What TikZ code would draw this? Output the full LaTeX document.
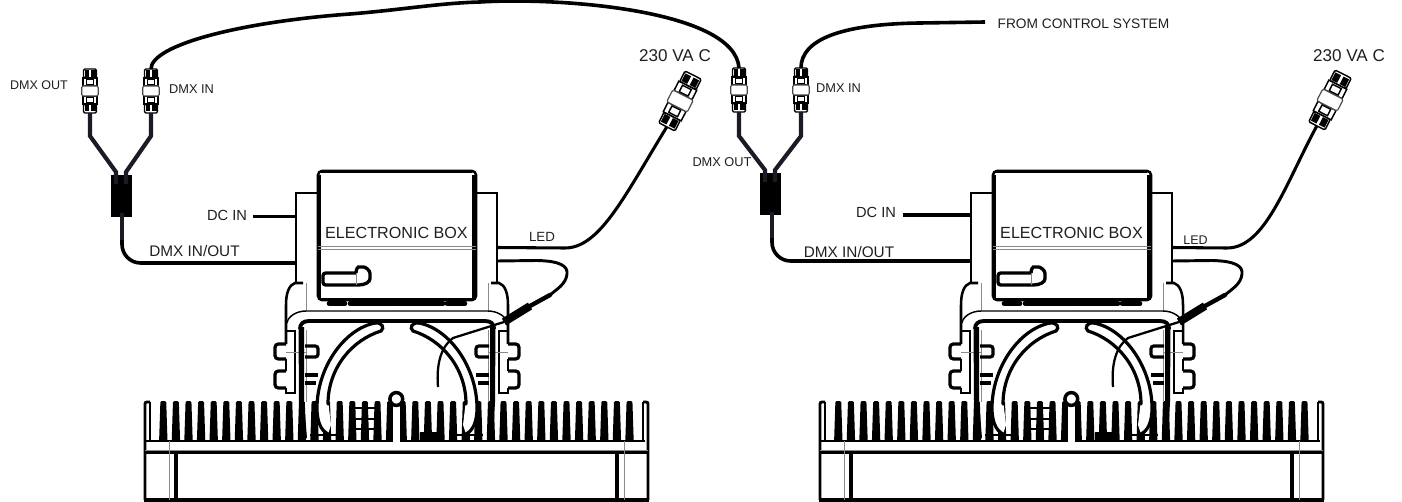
\documentclass[tikz,border=0pt]{standalone}
\usepackage{fontspec}
\setmainfont{Liberation Sans}
\definecolor{cabledark}{HTML}{1B1B26}
\definecolor{thin}{HTML}{8A8A8A}
\tikzset{
  x=0.75pt,y=-0.75pt,
  lbl/.style={inner sep=0pt,text=black!88},
  cable/.style={line width=2.7pt,draw=black},
  ycable/.style={line width=3.1pt,draw=cabledark,line join=miter},
  splitter/.style={fill=black,draw=none,minimum width=15.75pt,minimum height=31.5pt,inner sep=0pt},
  thick line/.style={line width=2.9pt,draw=black},
  med line/.style={line width=1.9pt,draw=black},
  fine line/.style={line width=1.1pt,draw=black},
  gray line/.style={line width=0.7pt,draw=thin},
  conn/.pic={
    \draw[fine line,fill=white,rounded corners=1pt] (-6.5,-22) rectangle (6.5,-13);
    \draw[fine line,fill=white,rounded corners=1pt] (-6.5,13) rectangle (6.5,22);
    \fill[black] (-5.5,-20.5) rectangle (-1,-14);
    \fill[black] (1,-20.5) rectangle (5.5,-14);
    \fill[black] (-5.5,14) rectangle (-1,20.5);
    \fill[black] (1,14) rectangle (5.5,20.5);
    \draw[fine line,fill=white] (-7.2,-13) rectangle (7.2,-5);
    \draw[fine line,fill=white] (-7.2,5) rectangle (7.2,13);
    \draw[fine line] (-3.5,-11.5) rectangle (3.5,-6);
    \draw[fine line] (-3.5,6) rectangle (3.5,11.5);
    \draw[line width=0.9pt,draw=black!70,fill=white,rounded corners=1pt] (-8.2,-5) rectangle (8.2,5);
    \coordinate (-top) at (0,-22);
    \coordinate (-bot) at (0,22);
  }
}
\newcommand{\halfbracket}{%
  \draw[gray line] (306,283) -- (306,311);
  \draw[med line] (303,283) -- (295,283) .. controls (289,285) and (286,293) .. (286,305) -- (286,344);
  \draw[med line] (286,359) -- (286,371);
  \draw[med line] (286,388) -- (286,393) -- (296,393);
  \draw[fine line] (295,330) -- (295,393);
  \draw[fine line] (287,323) .. controls (288,316) and (297,311) .. (306,311) -- (397,311);
  \draw[thick line] (300,329) .. controls (300,324) and (303,321) .. (309,321) -- (397,321);
  \draw[fine line] (287,331) -- (295,331);
  \draw[gray line] (306,330) -- (306,402);
  \draw[gray line] (286,352) -- (306,352);
  \fill[black] (298.5,327) -- (304,327) -- (304,402) -- (307,438) -- (301,438) -- (299,402) -- cycle;
  \draw[line width=2.4pt,rounded corners=2.5pt] (286,344) -- (275,344) -- (275,359) -- (286,359);
  \draw[line width=2.4pt,rounded corners=2.5pt] (286,371) -- (275,371) -- (275,388) -- (286,388);
  \draw[line width=2.4pt,rounded corners=2pt] (305,346) -- (318,346) -- (318,357) -- (305,357);
  \draw[line width=2.4pt] (305,375) -- (318,375);
  \draw[line width=2.4pt] (305,383) -- (316,383);
  \fill[white] (317,400) .. controls (317,420) and (320,430) .. (328,434) -- (331,425) -- (328,400) -- cycle;
  \draw[line width=2.4pt,line cap=round] (375,323) .. controls (344,329) and (317,368) .. (317,408) .. controls (317,420) and (320,430) .. (328,434);
  \draw[line width=2.4pt,line cap=round] (375,323) .. controls (382,322) and (385,328) .. (381,331) .. controls (352,340) and (328,368) .. (328,404);
}
\newcommand{\lampunit}{%
  \foreach \k in {0,...,37}{
    \pgfmathsetmacro{\cx}{163.3+12.6*\k}
    \fill[black,rounded corners=1pt] (\cx-2.9,401) -- (\cx+2.9,401) -- (\cx+4.2,441) -- (\cx-4.2,441) -- cycle;
  }
  \draw[line width=1.8pt] (145.5,441) -- (645,441);
  \draw[line width=0.8pt,white,dash pattern=on 1.5pt off 7.95pt] (150,442.5) -- (642,442.5);
  \draw[line width=2.2pt,rounded corners=1.5pt] (145,500) -- (145,402) -- (150,402);
  \draw[line width=1.2pt] (150,402) -- (150,440);
  \draw[line width=2.2pt,rounded corners=1.5pt] (648,500) -- (648,402) -- (643,402);
  \draw[line width=1.2pt] (643,402) -- (643,440);
  \draw[thick line] (145,452.5) -- (648,452.5);
  \draw[gray line] (145,450) -- (648,450);
  \draw[line width=2.4pt] (144,500) -- (649,500);
  \draw[gray line] (169,441) -- (169,500);
  \draw[gray line] (624,441) -- (624,500);
  \draw[thick line] (176,452) -- (176,500);
  \draw[thick line] (617,452) -- (617,500);
  \draw[line width=2pt] (352,408) -- (378,408);
  \draw[line width=2pt] (352,419) -- (378,419);
  \draw[line width=2pt] (352,429) -- (378,429);
  \draw[line width=2pt] (310,435) -- (343,435);
  \draw[line width=2pt] (457,435) -- (483,435);
  \fill[black] (420,432) rectangle (438,441);
  \fill[white] (393.1,405) rectangle (399.7,442);
  \draw[line width=2.6pt,fill=white] (396.3,399) circle (6.4);
  \halfbracket
  \begin{scope}[shift={(794,0)},xscale=-1]
    \halfbracket
  \end{scope}
  \draw[fine line] (317,193) -- (296,193) -- (296,283);
  \draw[fine line] (476,193) -- (497,193) -- (497,283);
  \draw[med line,fill=white,rounded corners=3pt] (318,300) -- (318,171) -- (476,171) -- (476,300) -- cycle;
  \draw[med line] (319.5,175) -- (319.5,298);
  \draw[thick line] (474,175) -- (474,298);
  \draw[thick line] (320,171.5) -- (472,171.5);
  \draw[thick line] (320,299.5) -- (474,299.5);
  \draw[gray line] (318,246.8) -- (476,246.8);
  \draw[gray line] (318,249.8) -- (476,249.8);
  \foreach \a/\b in {329/345,350/443,447/465}{
    \draw[line width=3.4pt,line cap=round] (\a,303.5) -- (\b,303.5);
  }
  \draw[line width=2.5pt,rounded corners=2pt,fill=white] (356,273) -- (323,273) -- (323,285) -- (356,285) .. controls (365,285) and (370,282) .. (370,276) .. controls (370,270) and (365,267) .. (361,267) .. controls (358,267) and (356,269) .. (356,273);
  \draw[gray line] (356,273) -- (356,285);
  \coordinate (ledplate) at (497,247.5);
  \coordinate (tailstart) at (497,261);
  \coordinate (plugA) at (550,295);
  \coordinate (plugB) at (530,306);
  \coordinate (plugC) at (504,322);
  \coordinate (loose1) at (438,387);
  \draw[line width=2.2pt] (tailstart) -- (537,260.5) .. controls (560,261) and (568,266) .. (567,274) .. controls (566,284) and (557,289) .. (plugA);
  \draw[line width=3.3pt,line cap=round] (plugA) -- (plugB);
  \draw[line width=6pt] (plugB) -- (plugC);
  \draw[line width=1.7pt] (plugC) -- (453,338) .. controls (442,346) and (436,362) .. (loose1);
  \draw[thin,line width=0.6pt] (527,303.5) -- (531,309.5);
}
\begin{document}
\begin{tikzpicture}
\useasboundingbox (0,0) rectangle (1402,502);
\begin{scope}[name prefix=u1-]
  \lampunit
\end{scope}
\begin{scope}[name prefix=u2-,shift={(675,0)}]
  \lampunit
\end{scope}
\coordinate (dmxp1) at (296,263);
\coordinate (dmxp2) at (971,261);
\coordinate (dcp1) at (296,216.5);
\coordinate (dcf1) at (253,216.5);
\coordinate (dcp2) at (971,215);
\coordinate (dcf2) at (903,215);
\draw[cable] (dcf1) -- (dcp1);
\draw[cable] (dcf2) -- (dcp2);
\node[splitter] (ya) at (121.5,196) {};
\node[splitter] (yb) at (770.5,194) {};
\pic (out1) at (90,91) {conn};
\pic (in1) at (151,91) {conn};
\pic (out2) at (739,90) {conn};
\pic (in2) at (801,90) {conn};
\pic[rotate=-27,xscale=1.4,yscale=1.32] (ac1) at (680,101) {conn};
\pic[rotate=-27,xscale=1.4,yscale=1.32] (ac2) at (1330,100) {conn};
\coordinate (ya1) at (116,184);
\coordinate (ya2) at (126,184);
\coordinate (yb1) at (765,182);
\coordinate (yb2) at (775,182);
\draw[ycable] (out1-bot) -- (90,136) -- (116,172) -- (ya1);
\draw[ycable] (in1-bot) -- (151,136) -- (126,172) -- (ya2);
\draw[ycable] (out2-bot) -- (739,136) -- (765,170) -- (yb1);
\draw[ycable] (in2-bot) -- (801,136) -- (775,170) -- (yb2);
\draw[ycable,draw=cabledark] (122,213) -- (122,245);
\draw[cable,rounded corners=14pt] (122,240) -- (122,263) -- (dmxp1);
\draw[ycable,draw=cabledark] (772,212) -- (772,243);
\draw[cable,rounded corners=14pt] (772,238) -- (772,261) -- (dmxp2);
\coordinate (top1) at (480,2);
\draw[cable] (in1-top) .. controls (151,45) and (240,22) .. (350,14) .. controls (400,10) and (440,3) .. (top1) .. controls (560,-3) and (735,10) .. (out2-top);
\coordinate (ctrlfree) at (985,22);
\draw[cable] (in2-top) .. controls (801,40) and (840,24) .. (920,23) -- (ctrlfree);
\draw[cable,line width=2.3pt] (u1-ledplate) -- (565,248) .. controls (600,248) and (625,195) .. (ac1-bot);
\draw[cable,line width=2.3pt] (u2-ledplate) -- (1227,248) .. controls (1265,248) and (1285,185) .. (ac2-bot);
\node[lbl,font=\fontsize{9.4pt}{11pt}\selectfont] (t1) at (39,85) {DMX OUT};
\node[lbl,font=\fontsize{9.6pt}{11pt}\selectfont] (t2) at (191.5,89) {DMX IN};
\node[lbl,font=\fontsize{11pt}{13pt}\selectfont] (t3) at (227,215) {DC IN};
\node[lbl,font=\fontsize{11.5pt}{13pt}\selectfont] (t4) at (194.5,251) {DMX IN/OUT};
\node[lbl,font=\fontsize{12.1pt}{14pt}\selectfont] (t5) at (396.5,233) {ELECTRONIC BOX};
\node[lbl,font=\fontsize{10pt}{12pt}\selectfont] (t6) at (542,236.5) {LED};
\node[lbl,font=\fontsize{12.8pt}{14pt}\selectfont] (t7) at (675,56) {230 VA C};
\node[lbl,font=\fontsize{9.6pt}{11pt}\selectfont] (t8) at (838.5,88) {DMX IN};
\node[lbl,font=\fontsize{9.6pt}{11pt}\selectfont] (t9) at (722,162) {DMX OUT};
\node[lbl,font=\fontsize{10.3pt}{12pt}\selectfont] (t10) at (1083.5,24) {FROM CONTROL SYSTEM};
\node[lbl,font=\fontsize{11pt}{13pt}\selectfont] (t11) at (876,212) {DC IN};
\node[lbl,font=\fontsize{11.5pt}{13pt}\selectfont] (t12) at (849,252) {DMX IN/OUT};
\node[lbl,font=\fontsize{12.1pt}{14pt}\selectfont] (t13) at (1071.5,233) {ELECTRONIC BOX};
\node[lbl,font=\fontsize{9.4pt}{12pt}\selectfont] (t14) at (1195.5,240) {LED};
\node[lbl,font=\fontsize{12.8pt}{14pt}\selectfont] (t15) at (1349,56) {230 VA C};
\end{tikzpicture}
\end{document}
